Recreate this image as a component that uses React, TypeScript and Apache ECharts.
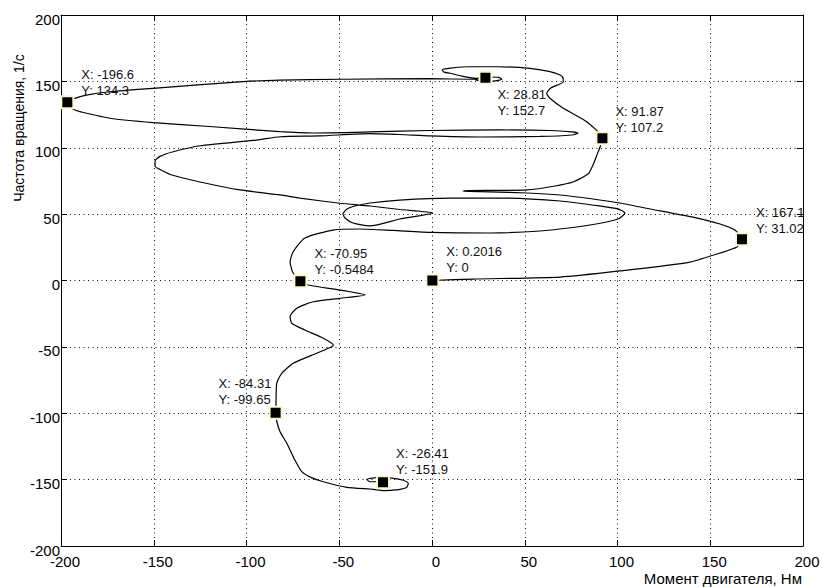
import React, { useEffect, useRef } from "react";
import * as echarts from "echarts";

// ---- axis ranges / ticks ----
const axisMin = -200;
const axisMax = 200;
const axisStep = 50;

// ---- trajectory (torque, speed), in time order ----
// start-up: from rest to the first torque peak
const startupRise: [number, number][] = [
  [0.2016, 0], [22.1, 1.1], [69, 2.6], [101.3, 7.2], [139.1, 13.9],
  [155.3, 20.7], [164.4, 25.2], [167.1, 31.02],
];
// start-up: swing back and narrow lobe up to second peak
const startupSwing: [number, number][] = [
  [163.3, 38], [155.3, 42.6], [140.7, 47.8], [122.9, 52.4], [101.3, 58.4],
  [86.8, 61.4], [69, 64.4], [51.2, 65.9], [31.3, 66.7], [20, 67.1],
  [16.7, 67.4], [20, 67.8], [36.7, 67.9], [51.2, 68.2], [66.3, 71.2],
  [76, 74.2], [84.1, 80.2], [86.8, 87], [88.9, 94.5], [90.6, 100.6],
  [91.87, 107.2],
];
// start-up: overshoot and settling at no-load speed
const startupSettle: [number, number][] = [
  [83.4, 119.6], [70.8, 129.7], [63.6, 137.3], [61.8, 141], [64, 145],
  [70.8, 149.8], [70.5, 153], [69, 154.8], [63, 157.5], [52.8, 159.8],
  [35, 161], [20.5, 161], [10, 160], [5.5, 158.6], [6.5, 157],
  [9.7, 156.1], [16, 154], [24.1, 152.3], [30, 153.3], [36, 153],
  [37.6, 151.6], [33, 150.2], [26, 150.3], [23.5, 151.3], [26, 152.3],
  [28.81, 152.7],
];
// reversal: torque jump to the negative peak
const reversalJump: [number, number][] = [
  [22.1, 151.6], [-1.1, 152], [-49.6, 151.6], [-81.9, 151], [-101.9, 149.8],
  [-150.4, 144.8], [-173.6, 142.2], [-187, 139.5], [-192.5, 137.2],
  [-196.6, 134.3],
];
// reversal: decaying torque oscillations down to zero speed
const reversalSwings: [number, number][] = [
  [-195.1, 130.9], [-192.5, 128.4], [-189.8, 127.2], [-173.6, 122.2],
  [-150.2, 118.9], [-120, 116], [-81.9, 112.1], [-64.2, 111.1],
  [-33.4, 111.9], [-1.1, 113], [36.7, 113.4], [63.6, 113], [75.5, 111.9],
  [78.7, 110.9], [75.5, 109.6], [58.2, 108.5], [25.9, 108.1], [-1.1, 108.9],
  [-17.3, 110], [-33.4, 110.7], [-60.4, 108.9], [-81.9, 108.3],
  [-94.5, 105.8], [-125, 101.5], [-139.5, 97], [-146.6, 93.5],
  [-149.3, 90], [-149.3, 86], [-145, 82.5], [-140.3, 79.5], [-125, 74.2],
  [-103.5, 68.2], [-81.9, 64.5], [-71.2, 62.1], [-49.6, 58.2],
  [-33.4, 56.1], [-17.3, 53.5], [0.5, 50.8], [-17.3, 46.3], [-33.4, 41.1],
  [-42.6, 43.3], [-46.9, 47.1], [-48, 50.1], [-45.8, 53.9], [-41.5, 56.1],
  [-33.4, 58.4], [-17.3, 60.6], [9.7, 62.1], [36.7, 62.1], [69, 59.9],
  [90.6, 56.1], [100.3, 53.9], [104, 50.8], [100.3, 46.3], [85.2, 41.8],
  [58.2, 37.3], [31.3, 35.8], [0, 36.2], [-21, 37.7], [-38.8, 38.8],
  [-53.4, 38], [-68.5, 32], [-74.9, 21.5], [-76.5, 13.9], [-74.9, 5.6],
  [-70.95, -0.5484],
];
// reversal: wiggles through negative speed
const reversalWiggle: [number, number][] = [
  [-66.7, -3.4], [-49.6, -7.2], [-36.1, -10.9], [-49.6, -13.4],
  [-64, -16], [-72.9, -20.9], [-76.5, -27.3], [-75.6, -32.2],
  [-68.5, -37.3], [-58.6, -43.5], [-53.2, -48.6], [-54.1, -49.9],
  [-62.2, -54.8], [-74.8, -62.4], [-81, -69.9], [-83.7, -77.4],
  [-84.1, -92.5], [-84.31, -99.65],
];
// reversal: settling at negative no-load speed
const reversalSettle: [number, number][] = [
  [-83.6, -106.6], [-81.9, -113.9], [-78.3, -122.6], [-73.9, -135.2],
  [-70.2, -144], [-65, -148.5], [-58.6, -151.6], [-46, -155.8],
  [-31.6, -157.3], [-26.3, -158.3], [-18, -157.5], [-13.6, -155.8],
  [-12.8, -152.8], [-16, -150.3], [-20.9, -149], [-28, -148.2],
  [-35.2, -149.8], [-33.4, -151.6], [-28, -151.6], [-26.41, -151.9],
];

// ---- data tips ----
const tipTorque = [-196.6, 28.81, 91.87, 167.1, 0.2016, -70.95, -84.31, -26.41];
const tipSpeed = [134.3, 152.7, 107.2, 31.02, 0, -0.5484, -99.65, -151.9];

// ---- texts ----
const xAxisTitle = "Момент двигателя, Нм";
const yAxisTitle = "Частота вращения, 1/с";

// ---- style: label offsets of each data tip (px, from marker centre) ----
const tipOffsets: [number, number][] = [
  [15, -35], [13, 10], [14, -34], [15, -34], [15, -36], [15, -35], [-56, -36], [14, -36],
];

const FONT = "'Liberation Sans', Arial, Helvetica, sans-serif";

export default function App() {
  const ref = useRef<HTMLDivElement | null>(null);

  useEffect(() => {
    if (!ref.current) return;
    const chart = echarts.init(ref.current, undefined, { renderer: "svg" });

    const path = [
      ...startupRise,
      ...startupSwing,
      ...startupSettle,
      ...reversalJump,
      ...reversalSwings,
      ...reversalWiggle,
      ...reversalSettle,
    ];

    const SYM = 12;
    const tipData = tipTorque.map((x, i) => ({
      value: [x, tipSpeed[i]],
      label: {
        show: true,
        formatter: `X: ${x}\nY: ${tipSpeed[i]}`,
        position: [tipOffsets[i][0] + SYM / 2, tipOffsets[i][1] + SYM / 2],
        align: "left",
        verticalAlign: "top",
      },
    }));

    const gridLine = { show: true, lineStyle: { color: "#111", width: 1, type: [1, 3.5] } };
    const frameLine = { show: true, onZero: false, lineStyle: { color: "#000", width: 1 } };
    const tick = { show: true, inside: true, length: 6, lineStyle: { color: "#000", width: 1 } };

    chart.setOption({
      animation: false,
      backgroundColor: "#ffffff",
      grid: { left: 61, right: 20, top: 15, bottom: 41, containLabel: false },
      xAxis: [
        {
          type: "value",
          min: axisMin,
          max: axisMax,
          interval: axisStep,
          position: "bottom",
          axisLine: frameLine,
          axisTick: tick,
          axisLabel: {
            color: "#000",
            fontSize: 15,
            fontFamily: FONT,
            margin: 9,
            lineHeight: 13,
            padding: [0, 0, 0, 8],
          },
          splitLine: gridLine,
        },
        {
          type: "value",
          min: axisMin,
          max: axisMax,
          interval: axisStep,
          position: "top",
          axisLine: frameLine,
          axisTick: tick,
          axisLabel: { show: false },
          splitLine: { show: false },
        },
      ],
      yAxis: [
        {
          type: "value",
          min: axisMin,
          max: axisMax,
          interval: axisStep,
          position: "left",
          axisLine: frameLine,
          axisTick: tick,
          axisLabel: {
            color: "#000",
            fontSize: 15,
            fontFamily: FONT,
            margin: 1,
            verticalAlign: "top",
            lineHeight: 8,
          },
          splitLine: gridLine,
        },
        {
          type: "value",
          min: axisMin,
          max: axisMax,
          interval: axisStep,
          position: "right",
          axisLine: frameLine,
          axisTick: tick,
          axisLabel: { show: false },
          splitLine: { show: false },
        },
      ],
      graphic: [
        {
          type: "text",
          x: 802,
          y: 571,
          style: {
            text: xAxisTitle,
            fill: "#000",
            font: `15px ${FONT}`,
            align: "right",
            verticalAlign: "top",
          },
        },
        {
          type: "text",
          x: 19,
          y: 128,
          rotation: Math.PI / 2,
          style: {
            text: yAxisTitle,
            fill: "#000",
            font: `14px ${FONT}`,
            align: "center",
            verticalAlign: "middle",
          },
        },
      ],
      series: [
        {
          type: "line",
          data: path,
          symbol: "none",
          showSymbol: false,
          smooth: 0.2,
          lineStyle: { color: "#000", width: 1.2 },
          z: 3,
        },
        {
          type: "scatter",
          data: tipData,
          symbol: "rect",
          symbolSize: SYM,
          itemStyle: { color: "#000", borderColor: "#fbf8cc", borderWidth: 2, opacity: 1 },
          label: {
            color: "#111",
            fontSize: 13,
            lineHeight: 16,
            fontFamily: FONT,
          },
          z: 5,
        },
      ],
    });

    return () => {
      chart.dispose();
    };
  }, []);

  return (
    <div
      ref={ref}
      style={{ position: "fixed", left: 0, top: 0, width: 823, height: 587, background: "#fff" }}
    />
  );
}
